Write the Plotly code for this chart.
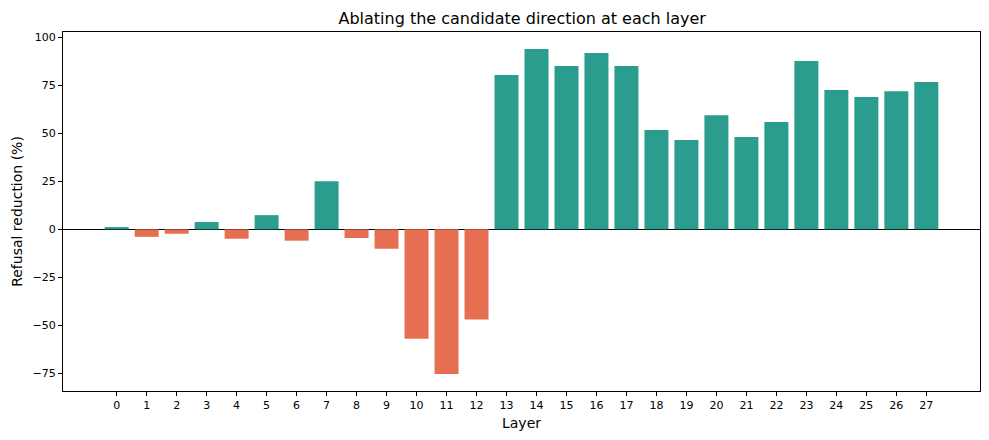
import plotly.graph_objects as go

layers = list(range(28))
reduction = [1.2, -3.9, -2.3, 3.8, -4.9, 7.4, -5.9, 25.1, -4.5, -10.1,
             -57.0, -75.3, -47.0, 80.4, 93.9, 85.1, 91.8, 85.1, 51.7, 46.5,
             59.5, 48.1, 55.9, 87.7, 72.6, 68.9, 71.9, 76.7]
pos_color = "#2a9d8f"
neg_color = "#e76f51"
colors = [pos_color if v >= 0 else neg_color for v in reduction]
y_ticks = [-75, -50, -25, 0, 25, 50, 75, 100]

fig = go.Figure(go.Bar(x=layers, y=reduction, marker=dict(color=colors, line=dict(width=0)),
                       width=0.8))

font = "DejaVu Sans, sans-serif"
fig.update_layout(
    width=989, height=440,
    margin=dict(l=63, r=9, t=32, b=49),
    plot_bgcolor="white", paper_bgcolor="white",
    showlegend=False,
    font=dict(family=font, color="black"),
    title=dict(text="Ablating the candidate direction at each layer", x=0.528, xanchor="center",
               y=0.958, yanchor="middle", yref="container", font=dict(size=16, family=font)),
    bargap=0.2,
)
fig.update_xaxes(
    range=[-1.79, 28.79], tickmode="array", tickvals=layers, ticktext=[str(l) for l in layers],
    showline=True, mirror=True, linecolor="black", linewidth=1,
    ticks="outside", ticklen=4, tickcolor="black", tickfont=dict(size=11),
    showgrid=False, zeroline=False,
    title=dict(text="Layer", font=dict(size=14), standoff=6),
)
fig.update_yaxes(
    range=[-84.2, 102.8], tickmode="array", tickvals=y_ticks,
    showline=True, mirror=True, linecolor="black", linewidth=1,
    ticks="outside", ticklen=4, tickcolor="black", tickfont=dict(size=11),
    showgrid=False, zeroline=True, zerolinecolor="black", zerolinewidth=1,
    title=dict(text="Refusal reduction (%)", font=dict(size=14), standoff=6),
)
fig.write_html("out.html")
